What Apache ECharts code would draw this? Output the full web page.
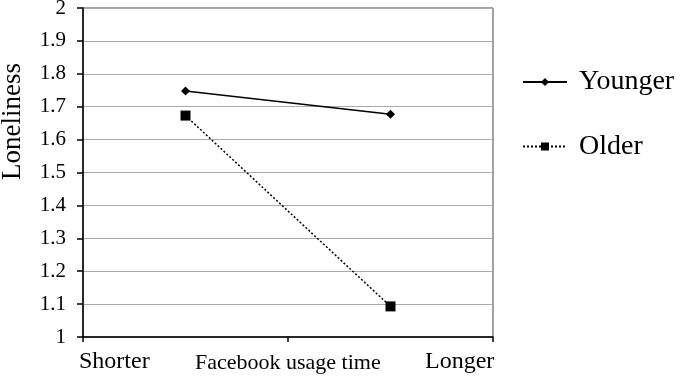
<!DOCTYPE html>
<html><head><meta charset="utf-8">
<script src="https://cdn.jsdelivr.net/npm/echarts@6/dist/echarts.min.js"></script>
<style>html,body{margin:0;padding:0;background:#fff}#c{width:685px;height:376px}</style>
</head><body><div id="c"></div>
<script>
const categories = ['Shorter', 'Longer'];
const younger = [1.748, 1.677];
const older = [1.673, 1.093];
const yTicks = ['1', '1.1', '1.2', '1.3', '1.4', '1.5', '1.6', '1.7', '1.8', '1.9', '2'];
const xTexts = ['Shorter', 'Facebook usage time', 'Longer'];
const yTitle = 'Loneliness';

const F = 'Liberation Serif, Times New Roman, serif';
const chart = echarts.init(document.getElementById('c'));
chart.setOption({
  animation: false,
  grid: {left: 83, right: 192, top: 8, bottom: 39, containLabel: false, outerBoundsMode: 'none',
    show: true, borderColor: '#444', borderWidth: 1},
  legend: {
    orient: 'vertical', left: 517, top: 62, itemWidth: 44, itemHeight: 10, itemGap: 34.5,
    textStyle: {fontFamily: F, fontSize: 28, lineHeight: 30, color: '#000', padding: [0, 0, 0, 7]},
    data: ['Younger', 'Older']
  },
  xAxis: {
    type: 'category', data: categories, boundaryGap: true,
    axisLine: {lineStyle: {color: '#000', width: 1.5}},
    axisTick: {show: true, length: 5, lineStyle: {color: '#000', width: 1.5}},
    axisLabel: {show: false}
  },
  yAxis: {
    type: 'value', min: 1, max: 2, interval: 0.1,
    axisLine: {show: true, lineStyle: {color: '#000', width: 1.5}},
    axisTick: {show: true, length: 6, lineStyle: {color: '#000', width: 1.5}},
    axisLabel: {fontFamily: F, fontSize: 21, color: '#000', margin: 17,
      formatter: v => yTicks[Math.round((v - 1) * 10)]},
    splitLine: {lineStyle: {color: '#aaa', width: 1}}
  },
  series: [
    {name: 'Younger', type: 'line', data: younger, symbol: 'diamond', symbolSize: 9,
     lineStyle: {color: '#000', width: 1.5}, itemStyle: {color: '#000'}},
    {name: 'Older', type: 'line', data: older, symbol: 'rect', symbolSize: 10,
     lineStyle: {color: '#000', width: 1.5, type: [2, 2]}, itemStyle: {color: '#000'}}
  ],
  graphic: [
    {type: 'text', x: 13, y: 121.5, rotation: Math.PI / 2,
     style: {text: yTitle, font: '27px ' + F, fill: '#000', align: 'center', verticalAlign: 'middle'}},
    {type: 'text', left: 79, top: 350, style: {text: xTexts[0], font: '24px ' + F, fill: '#000'}},
    {type: 'text', left: 195, top: 352, style: {text: xTexts[1], font: '22px ' + F, fill: '#000'}},
    {type: 'text', left: 425, top: 350, style: {text: xTexts[2], font: '24px ' + F, fill: '#000'}}
  ]
});
</script></body></html>
